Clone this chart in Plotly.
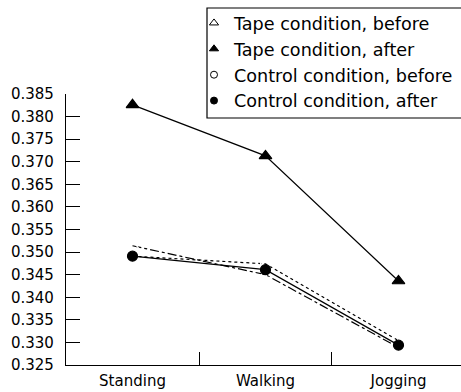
import plotly.graph_objects as go

categories = ["Standing", "Walking", "Jogging"]
tape_before = [0.3514, 0.3450, 0.3289]
tape_after = [0.3826, 0.3713, 0.3436]
control_before = [0.3491, 0.3474, 0.3304]
control_after = [0.3491, 0.3461, 0.3294]
y_ticks = [round(0.325 + 0.005 * i, 3) for i in range(13)]

FONT = "DejaVu Sans"
W, H = 461, 392
L, R, T, B = 66, 0, 94, 27
series = [
    ("Tape condition, before", tape_before, "triangle-up-open", "dashdot", 11, 1, 8),
    ("Control condition, before", control_before, "circle-open", "dot", 10, 3, 7),
    ("Control condition, after", control_after, "circle", "solid", 10, 4, 7),
    ("Tape condition, after", tape_after, "triangle-up", "solid", 11, 2, 8),
]

fig = go.Figure()
for name, vals, sym, dash, size, rank, lsize in series:
    fig.add_trace(go.Scatter(
        x=categories, y=vals, mode="lines+markers", showlegend=False,
        line=dict(color="black", width=1.2, dash=dash),
        marker=dict(symbol=sym, size=size, color="white" if "open" in sym else "black",
                    line=dict(color="black", width=1.2)),
    ))
for name, vals, sym, dash, size, rank, lsize in series:
    fig.add_trace(go.Scatter(
        x=[categories[0]], y=[None], mode="markers", name=name, legendrank=rank,
        marker=dict(symbol=sym, size=lsize, color="black", line=dict(color="black", width=1)),
        hoverinfo="skip",
    ))

pw, ph = W - L - R, H - T - B
# legend frame (pixel box 207..beyond right, 8..118)
fig.add_shape(type="rect", xref="paper", yref="paper",
              x0=(207 - L) / pw, x1=(480 - L) / pw,
              y0=(H - B - 118) / ph, y1=(H - B - 8) / ph,
              line=dict(color="black", width=1.2), fillcolor="white", layer="above")

fig.update_layout(
    width=W, height=H,
    margin=dict(l=L, r=R, t=T, b=B, autoexpand=False),
    plot_bgcolor="white", paper_bgcolor="white",
    font=dict(family=FONT, size=15, color="black"),
    legend=dict(x=194 / W, y=1 - 5 / H, xanchor="left", yanchor="top",
                xref="container", yref="container",
                borderwidth=0, bgcolor="rgba(0,0,0,0)",
                font=dict(size=17.6), itemwidth=30, tracegroupgap=0),
    xaxis=dict(type="category", categoryorder="array", categoryarray=categories,
               range=[-0.5, 2.47], showline=True, linecolor="black", linewidth=1.2,
               ticks="inside", ticklen=13, tickcolor="black", tickson="boundaries",
               showgrid=False, zeroline=False, tickfont=dict(size=15),
               ticklabelstandoff=2),
    yaxis=dict(range=[0.325, 0.385], tickvals=y_ticks, tickformat=".3f",
               showline=True, linecolor="black", linewidth=1.2,
               ticks="inside", ticklen=14, tickcolor="black",
               showgrid=False, zeroline=False, ticklabelstandoff=8),
)
fig.write_html("out.html", config={"displayModeBar": False},
               post_script="document.body.style.margin='0px';")
